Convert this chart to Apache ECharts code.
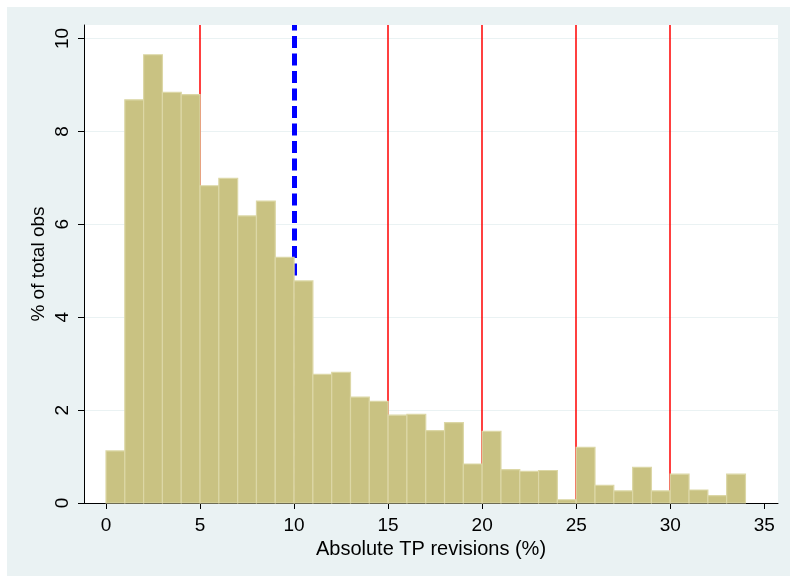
<!DOCTYPE html>
<html>
<head>
<meta charset="utf-8">
<script src="https://cdn.jsdelivr.net/npm/echarts@6/dist/echarts.min.js"></script>
<style>
  html, body { margin: 0; padding: 0; background: #fff; }
  #chart {
    position: absolute;
    left: 7px;
    top: 7px;
    width: 783px;
    height: 569px;
    background: #EAF2F3;
  }
</style>
</head>
<body>
<div id="chart"></div>
<script>
  // histogram bins (width 1) and their heights in % of obs
  var binStarts = [0, 1, 2, 3, 4, 5, 6, 7, 8, 9, 10, 11, 12, 13, 14, 15, 16,
                   17, 18, 19, 20, 21, 22, 23, 24, 25, 26, 27, 28, 29, 30, 31, 32, 33];
  var binEnds = [1, 2, 3, 4, 5, 6, 7, 8, 9, 10, 11, 12, 13, 14, 15, 16, 17,
                 18, 19, 20, 21, 22, 23, 24, 25, 26, 27, 28, 29, 30, 31, 32, 33, 34];
  var pctObs = [1.12, 8.68, 9.65, 8.84, 8.79, 6.83, 6.99, 6.18, 6.5, 5.29, 4.78,
                2.77, 2.81, 2.28, 2.19, 1.89, 1.91, 1.56, 1.73, 0.84, 1.54,
                0.72, 0.68, 0.7, 0.07, 1.2, 0.38, 0.26, 0.77, 0.26, 0.62, 0.28, 0.16, 0.62];

  var redLines = [5, 15, 20, 25, 30];
  var blueLine = [10];

  var xTicks = [0, 5, 10, 15, 20, 25, 30, 35];
  var yTicks = [0, 2, 4, 6, 8, 10];

  var chart = echarts.init(document.getElementById('chart'));

  var barData = [];
  for (var i = 0; i < pctObs.length; i++) {
    barData.push([binStarts[i], binEnds[i], pctObs[i]]);
  }

  var fontFam = '"Liberation Sans", Arial, sans-serif';

  chart.setOption({
    animation: false,
    backgroundColor: 'transparent',
    grid: {
      left: 77, top: 18, right: 12, bottom: 73,
      show: true,
      backgroundColor: '#fff',
      borderWidth: 0
    },
    xAxis: {
      type: 'value',
      min: -1.17,
      max: 35.73,
      name: 'Absolute TP revisions (%)',
      nameLocation: 'middle',
      nameGap: 35,
      nameTextStyle: { color: '#000', fontSize: 20, fontFamily: fontFam },
      axisLine: { show: true, onZero: false, lineStyle: { color: '#000', width: 1 } },
      axisTick: { show: true, length: 6, customValues: xTicks, lineStyle: { color: '#000' } },
      axisLabel: { customValues: xTicks, color: '#000', fontSize: 19, fontFamily: fontFam, margin: 13 },
      splitLine: { show: false }
    },
    yAxis: {
      type: 'value',
      min: 0,
      max: 10.29,
      name: '% of total obs',
      nameLocation: 'middle',
      nameRotate: 90,
      nameGap: 36,
      nameMoveOverlap: false,
      nameTextStyle: { color: '#000', fontSize: 19, fontFamily: fontFam },
      axisLine: { show: true, onZero: false, lineStyle: { color: '#000', width: 1 } },
      axisTick: { show: true, length: 6, customValues: yTicks, lineStyle: { color: '#000' } },
      axisLabel: { customValues: yTicks, rotate: 90, color: '#000', fontSize: 19, fontFamily: fontFam, margin: 12 },
      splitLine: { show: true, customValues: yTicks, lineStyle: { color: '#EAF2F3', width: 1 } }
    },
    series: [
      {
        type: 'line',
        data: [],
        z: 1,
        silent: true,
        markLine: {
          symbol: 'none',
          label: { show: false },
          animation: false,
          lineStyle: { color: '#FF0000', width: 1.5, type: 'solid' },
          data: redLines.map(function (v) { return { xAxis: v }; })
        }
      },
      {
        type: 'line',
        data: [],
        z: 1,
        silent: true,
        markLine: {
          symbol: 'none',
          label: { show: false },
          animation: false,
          lineStyle: { color: '#0000FF', width: 5, type: [12, 5.5] },
          data: blueLine.map(function (v) { return { xAxis: v }; })
        }
      },
      {
        type: 'custom',
        z: 5,
        data: barData,
        encode: { x: [0, 1], y: 2 },
        renderItem: function (params, api) {
          var p0 = api.coord([api.value(0), api.value(2)]);
          var p1 = api.coord([api.value(1), 0]);
          return {
            type: 'rect',
            shape: { x: p0[0], y: p0[1], width: p1[0] - p0[0], height: p1[1] - p0[1] },
            style: { fill: '#C9C282', stroke: '#DCD7A6', lineWidth: 1.2 }
          };
        }
      }
    ]
  });
</script>
</body>
</html>
